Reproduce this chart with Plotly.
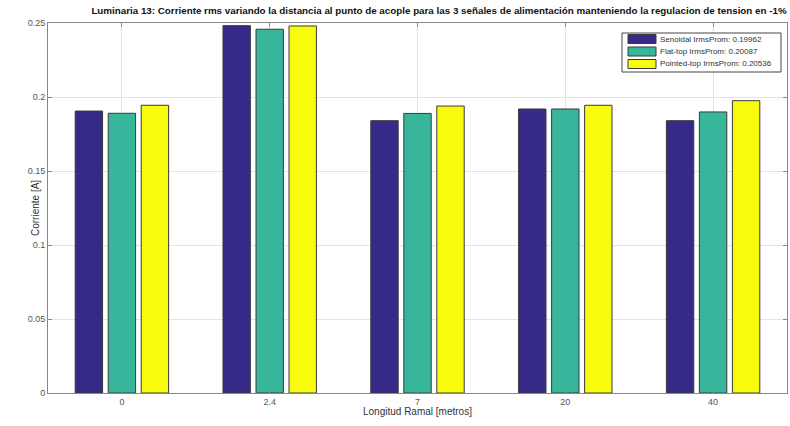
import plotly.graph_objects as go

categories = ["0", "2.4", "7", "20", "40"]
senoidal = [0.1905, 0.2482, 0.1840, 0.1919, 0.1840]
flat_top = [0.1890, 0.2458, 0.1889, 0.1919, 0.1899]
pointed_top = [0.1944, 0.2480, 0.1939, 0.1944, 0.1975]
names = ["Senoidal IrmsProm: 0.19962", "Flat-top IrmsProm: 0.20087", "Pointed-top IrmsProm: 0.20536"]
colors = ["#352a87", "#38b69c", "#f9fb0e"]
y_ticks = [0, 0.05, 0.1, 0.15, 0.2, 0.25]
y_ticklabels = ["0", "0.05", "0.1", "0.15", "0.2", "0.25"]

W, H = 790, 426
L, R, T, B = 48, 3, 23, 33
pw, ph = W - L - R, H - T - B


def px_x(px):
    return (px - L) / pw


def px_y(py):
    return (H - B - py) / ph


fig = go.Figure()
for vals, name, col in zip([senoidal, flat_top, pointed_top], names, colors):
    fig.add_trace(go.Bar(x=categories, y=vals, name=name, showlegend=False,
                         marker=dict(color=col, line=dict(color="#3a3a3a", width=1))))

font_fam = "Liberation Sans, Arial, Helvetica"
fig.update_layout(
    width=W, height=H,
    margin=dict(l=L, r=R, t=T, b=B, autoexpand=False),
    paper_bgcolor="white", plot_bgcolor="white",
    barmode="group", bargap=0.33, bargroupgap=0.17,
    title=dict(text="<b>Luminaria 13: Corriente rms variando la distancia al punto de acople para las 3 señales de alimentación manteniendo la regulacion de tension en -1%</b>",
               x=439 / W, xanchor="center", y=1 - 11 / H, yanchor="middle",
               font=dict(family=font_fam, size=9.8, color="#111")),
    font=dict(family=font_fam, size=9, color="#444"),
    showlegend=False,
)

# custom legend (MATLAB-style)
shapes = [dict(type="rect", xref="paper", yref="paper",
               x0=px_x(622), x1=px_x(781), y0=px_y(72), y1=px_y(33),
               line=dict(color="#444", width=1), fillcolor="white", layer="above")]
annotations = []
row_y = [39, 51.5, 64]
for name, col, ry in zip(names, colors, row_y):
    shapes.append(dict(type="rect", xref="paper", yref="paper",
                       x0=px_x(628), x1=px_x(656), y0=px_y(ry + 4.5), y1=px_y(ry - 4.5),
                       line=dict(color="#3a3a3a", width=1), fillcolor=col, layer="above"))
    annotations.append(dict(text=name, xref="paper", yref="paper", x=px_x(658), y=px_y(ry),
                            xanchor="left", yanchor="middle", showarrow=False,
                            font=dict(size=8, color="#333")))

annotations.append(dict(text="Longitud Ramal [metros]", xref="paper", yref="paper",
                        x=0.5, y=px_y(411), xanchor="center", yanchor="middle",
                        showarrow=False, font=dict(size=10, color="#333")))
annotations.append(dict(text="Corriente [A]", xref="paper", yref="paper",
                        x=px_x(35), y=0.5, xanchor="center", yanchor="middle", textangle=-90,
                        showarrow=False, font=dict(size=10, color="#333")))
fig.update_layout(shapes=shapes, annotations=annotations)

fig.update_xaxes(
    type="category", range=[-0.5, 4.5], automargin=False,
    showgrid=True, gridcolor="#e3e3e3", gridwidth=1,
    showline=True, linecolor="#888", linewidth=1, mirror="ticks",
    ticks="inside", ticklen=4, tickcolor="#888",
    tickfont=dict(size=9, color="#555"),
)
fig.update_yaxes(
    range=[0, 0.25], tickvals=y_ticks, ticktext=y_ticklabels, automargin=False,
    showgrid=True, gridcolor="#e3e3e3", gridwidth=1, zeroline=False,
    showline=True, linecolor="#888", linewidth=1, mirror="ticks",
    ticks="inside", ticklen=4, tickcolor="#888",
    tickfont=dict(size=9, color="#555"),
)
fig.write_html("out.html", config={"displayModeBar": False},
               post_script="document.body.style.margin='0';document.body.style.overflow='hidden';")
